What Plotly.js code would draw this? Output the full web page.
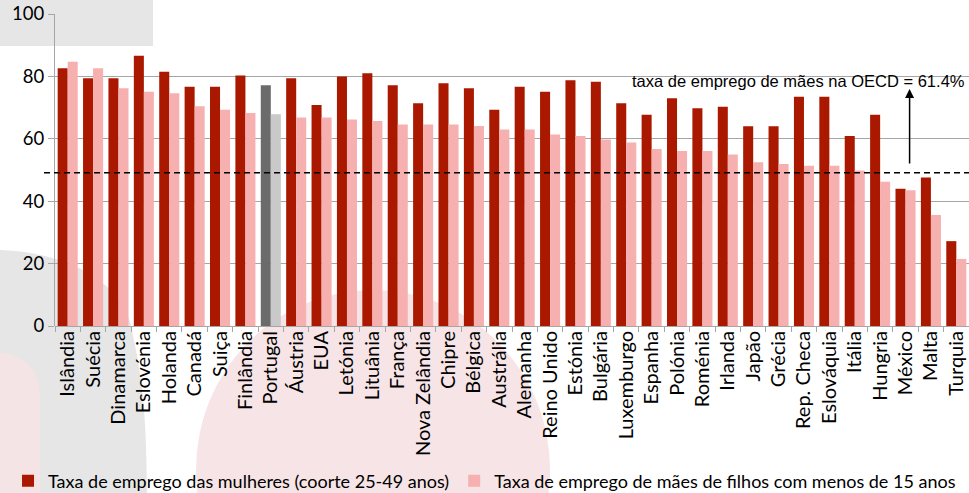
<!DOCTYPE html>
<html><head><meta charset="utf-8">
<script src="https://cdn.plot.ly/plotly-3.0.1.min.js"></script>
<style>html,body{margin:0;padding:0;background:#fff}#chart{width:969px;height:493px}</style>
</head><body><div id="chart"></div>
<script>
const countries = ["Islândia","Suécia","Dinamarca","Eslovénia","Holanda","Canadá","Suiça","Finlândia","Portugal","Áustria","EUA","Letónia","Lituânia","França","Nova Zelândia","Chipre","Bélgica","Austrália","Alemanha","Reino Unido","Estónia","Bulgária","Luxemburgo","Espanha","Polónia","Roménia","Irlanda","Japão","Grécia","Rep. Checa","Eslováquia","Itália","Hungria","México","Malta","Turquia"];
const women = [82.6,79.4,79.4,86.6,81.5,76.7,76.7,80.3,77.2,79.4,70.8,80.0,81.0,77.2,71.4,77.8,76.2,69.3,76.7,75.1,78.8,78.3,71.4,67.7,73.0,69.8,70.3,64.0,64.0,73.5,73.5,60.9,67.7,44.0,47.6,27.2];
const mothers = [84.7,82.6,76.2,75.1,74.6,70.4,69.3,68.3,67.9,66.8,66.8,66.2,65.7,64.6,64.6,64.6,64.1,63.0,63.0,61.4,60.9,59.8,58.8,56.7,56.1,56.1,55.0,52.5,51.9,51.4,51.4,49.8,46.2,43.5,35.6,21.5];
const oecdLine = 49.1;
const seriesNames = ["Taxa de emprego das mulheres (coorte 25-49 anos)","Taxa de emprego de mães de filhos com menos de 15 anos"];
const annText = "taxa de emprego de mães na OECD = 61.4%";

const highlight = "Portugal";
const c1 = countries.map(c => c === highlight ? "#6b6b6b" : "#aa1800");
const c2 = countries.map(c => c === highlight ? "#c9c9c9" : "#f7b0b0");

// pixel -> paper helpers for decorative background
const L = 55, R = 969, T = 14, B = 326;
const px = x => ((x - L) / (R - L)).toFixed(4);
const py = y => ((B - y) / (B - T)).toFixed(4);

const shapes = [
  {type:'rect', xref:'paper', yref:'paper', x0:px(0), x1:px(153), y0:py(46), y1:py(-5), fillcolor:'#e6e6e6', line:{width:0}, layer:'below'},
  {type:'path', xref:'paper', yref:'paper', layer:'below', fillcolor:'#e6e6e6', line:{width:0},
   path:`M ${px(-5)},${py(250)} L ${px(0)},${py(250)} C ${px(70)},${py(252)} ${px(125)},${py(285)} ${px(132)},${py(330)} C ${px(140)},${py(370)} ${px(147)},${py(400)} ${px(147)},${py(500)} L ${px(-5)},${py(500)} Z`},
  {type:'path', xref:'paper', yref:'paper', layer:'below', fillcolor:'#f5e4e5', line:{width:0},
   path:`M ${px(-5)},${py(353)} L ${px(0)},${py(353)} C ${px(25)},${py(355)} ${px(40)},${py(370)} ${px(40)},${py(400)} L ${px(40)},${py(500)} L ${px(-5)},${py(500)} Z`},
  {type:'circle', xref:'paper', yref:'paper', layer:'below', fillcolor:'#f6e4e6', line:{width:0},
   x0:px(196), x1:px(550), y0:py(650), y1:py(290)},
  {type:'line', xref:'paper', yref:'y', x0:px(44), x1:1, y0:oecdLine, y1:oecdLine, line:{color:'#000', width:1.5, dash:'6px,4px'}}
];

const data = [
  {type:'bar', x:countries, y:women, name:seriesNames[0], marker:{color:c1}},
  {type:'bar', x:countries, y:mothers, name:seriesNames[1], marker:{color:c2}}
];

const layout = {
  width:969, height:493,
  margin:{l:L, r:0, t:T, b:493-B, autoexpand:false},
  paper_bgcolor:'#fff', plot_bgcolor:'rgba(0,0,0,0)',
  barmode:'group', bargap:0.21, bargroupgap:0,
  font:{family:'Lato, sans-serif', color:'#000'},
  xaxis:{type:'category', tickangle:-90, tickson:'boundaries', ticks:'outside', ticklen:5, tickcolor:'#a6a6a6',
         showline:false, showgrid:false, tickfont:{family:'Lato', size:20, color:'#000'}, automargin:false},
  yaxis:{range:[0,100], dtick:20, showgrid:true, gridcolor:'#a6a6a6', gridwidth:1, showline:true, linecolor:'#a6a6a6',
         ticks:'outside', ticklen:6, tickcolor:'#a6a6a6', tickfont:{family:'Lato', size:18.5, color:'#000'}, zeroline:true, zerolinecolor:'#a6a6a6', automargin:false},
  showlegend:true,
  legend:{orientation:'h', x:px(8), xanchor:'left', y:py(481), yanchor:'middle', font:{family:'Lato', size:18, color:'#000'},
          bgcolor:'rgba(0,0,0,0)', itemwidth:30, tracegroupgap:0, traceorder:'normal', borderwidth:0},
  shapes:shapes,
  annotations:[
    {xref:'x', yref:'y', x:33.16, y:76, ax:33.16, ay:51.6, axref:'x', ayref:'y', showarrow:true, arrowhead:2, arrowsize:1.2, arrowwidth:1.5, arrowcolor:'#000', text:''},
    {xref:'paper', yref:'y', x:px(967), xanchor:'right', y:78.6, yanchor:'middle', showarrow:false, text:annText,
     font:{family:'Liberation Sans, Arial', size:16.5, color:'#000'}}
  ]
};
Plotly.newPlot('chart', data, layout, {displayModeBar:false, staticPlot:true});
</script></body></html>
